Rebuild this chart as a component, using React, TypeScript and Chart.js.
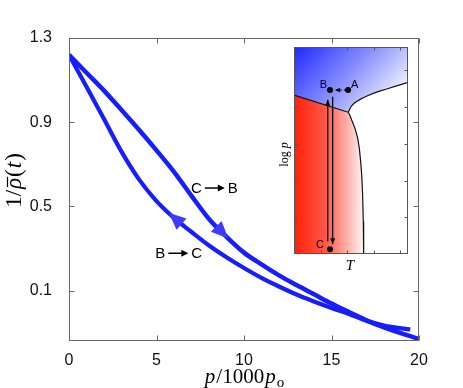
import React, { useEffect, useRef } from "react";
import { Chart, registerables } from "chart.js";

Chart.register(...registerables);

// ---------- main chart data ----------
const pressureCompress = [0, 1, 2, 3, 4, 5, 6, 7, 8, 9, 10, 11, 12, 13, 14, 15, 16, 17, 18, 19, 20];
const invDensityCompress = [1.22, 1.135, 1.05, 0.958, 0.864, 0.766, 0.664, 0.55, 0.44, 0.355, 0.28, 0.224, 0.172, 0.126, 0.082, 0.038, -0.002, -0.042, -0.075, -0.104, -0.13];
const pressureDecompress = [0, 1, 2, 3, 4, 5, 6, 7, 8, 9, 10, 11, 12, 13, 14, 15, 16, 17, 18, 19, 19.5];
const invDensityDecompress = [1.22, 1.068, 0.915, 0.76, 0.628, 0.525, 0.445, 0.378, 0.314, 0.258, 0.207, 0.16, 0.119, 0.081, 0.048, 0.017, -0.012, -0.044, -0.066, -0.08, -0.085];
const xTickValues = [0, 5, 10, 15, 20];
const yTickValues = [0.1, 0.5, 0.9, 1.3];

// direction arrows on the curves
const arrowSeries = [0, 1];
const arrowTipP = [9.1, 5.7];
const arrowBaseP = [8.4, 6.3];

// curve annotations
const labelFrom = ["C", "B"];
const labelTo = ["B", "C"];
const labelP = [8.31, 6.27];
const labelInv = [0.587, 0.277];

// ---------- inset (phase diagram) data ----------
const insetLeftT = [0, 0.476];
const insetLeftLogP = [0.768, 0.685];
const insetUpperT = [0.476, 0.49, 0.506, 0.527, 0.55, 0.58, 0.608, 0.65, 0.696, 0.75, 0.813, 0.9, 1];
const insetUpperLogP = [0.685, 0.702, 0.716, 0.728, 0.737, 0.747, 0.755, 0.766, 0.776, 0.787, 0.797, 0.812, 0.829];
const insetLowerT = [0.476, 0.492, 0.506, 0.535, 0.559, 0.573, 0.585, 0.594, 0.602, 0.608, 0.611];
const insetLowerLogP = [0.685, 0.668, 0.647, 0.607, 0.559, 0.511, 0.446, 0.382, 0.285, 0.156, 0];
const stateNames = ["A", "B", "C"];
const stateT = [0.474, 0.316, 0.316];
const stateLogP = [0.792, 0.792, 0.023];
const upPathT = [0.296, 0.296];
const upPathLogP = [0.06, 0.745];
const downPathT = [0.339, 0.339];
const downPathLogP = [0.76, 0.047];
const dotPathT = [0.455, 0.36];
const dotPathLogP = [0.792, 0.792];
const insetTTicks = [0.233, 0.467, 0.7, 0.933];
const insetLogPTicks = [0.177, 0.355, 0.532, 0.709, 0.887];

const BLUE = "rgb(22,30,255)";
const ARROW_BLUE = "rgb(62,58,255)";
const SANS = "'Liberation Sans', Arial, sans-serif";
const SERIF = "'Liberation Serif', 'Times New Roman', serif";

function interp(xs: number[], ys: number[], x: number): number {
  for (let i = 0; i < xs.length - 1; i++) {
    if (x >= xs[i] && x <= xs[i + 1]) {
      const t = (x - xs[i]) / (xs[i + 1] - xs[i]);
      return ys[i] + t * (ys[i + 1] - ys[i]);
    }
  }
  return ys[ys.length - 1];
}

function triangle(ctx: CanvasRenderingContext2D, tx: number, ty: number, dx: number, dy: number, len: number, hw: number) {
  const n = Math.hypot(dx, dy) || 1;
  const ux = dx / n, uy = dy / n;
  const bx = tx - ux * len, by = ty - uy * len;
  ctx.beginPath();
  ctx.moveTo(tx, ty);
  ctx.lineTo(bx - uy * hw, by + ux * hw);
  ctx.lineTo(bx + uy * hw, by - ux * hw);
  ctx.closePath();
  ctx.fill();
}

const mainPlugin = {
  id: "mainDecor",
  afterDatasetsDraw(chart: any) {
    const { ctx, scales } = chart;
    const xs = scales.x, ys = scales.y;
    ctx.save();
    // direction arrows
    ctx.fillStyle = ARROW_BLUE;
    arrowSeries.forEach((s, i) => {
      const px = s === 0 ? pressureCompress : pressureDecompress;
      const py = s === 0 ? invDensityCompress : invDensityDecompress;
      const tx = xs.getPixelForValue(arrowTipP[i]);
      const ty = ys.getPixelForValue(interp(px, py, arrowTipP[i]));
      const bx = xs.getPixelForValue(arrowBaseP[i]);
      const by = ys.getPixelForValue(interp(px, py, arrowBaseP[i]));
      triangle(ctx, tx, ty, tx - bx, ty - by, 17, 7.5);
    });
    // annotations "C -> B", "B -> C"
    ctx.font = `15px ${SANS}`;
    ctx.fillStyle = "#000";
    ctx.strokeStyle = "#000";
    ctx.textBaseline = "middle";
    ctx.textAlign = "left";
    labelFrom.forEach((f, i) => {
      const cx = xs.getPixelForValue(labelP[i]);
      const cy = ys.getPixelForValue(labelInv[i]);
      const wF = ctx.measureText(f).width;
      const wT = ctx.measureText(labelTo[i]).width;
      const arrowLen = 20, gap = 3;
      const total = wF + gap + arrowLen + gap + wT;
      const x0 = cx - total / 2;
      ctx.fillText(f, x0, cy + 1);
      const ax0 = x0 + wF + gap;
      const ax1 = ax0 + arrowLen;
      ctx.lineWidth = 1.5;
      ctx.beginPath();
      ctx.moveTo(ax0, cy);
      ctx.lineTo(ax1 - 6, cy);
      ctx.stroke();
      triangle(ctx, ax1, cy, 1, 0, 7, 3.5);
      ctx.fillText(labelTo[i], ax1 + gap, cy + 1);
    });
    ctx.restore();
  },
  afterDraw(chart: any) {
    const { ctx, chartArea: a, scales } = chart;
    const xs = scales.x, ys = scales.y;
    ctx.save();
    const L = Math.round(a.left) + 0.5, R = Math.round(a.right) - 0.5;
    const T = Math.round(a.top) + 0.5, B = Math.round(a.bottom) - 0.5;
    ctx.strokeStyle = "#666";
    ctx.lineWidth = 1;
    ctx.strokeRect(L, T, R - L, B - T);
    ctx.beginPath();
    xTickValues.forEach((v) => {
      const x = Math.round(xs.getPixelForValue(v)) + 0.5;
      ctx.moveTo(x, B); ctx.lineTo(x, B - 5);
      ctx.moveTo(x, T); ctx.lineTo(x, T + 5);
    });
    yTickValues.forEach((v) => {
      const y = Math.round(ys.getPixelForValue(v)) + 0.5;
      ctx.moveTo(L, y); ctx.lineTo(L + 5, y);
      ctx.moveTo(R, y); ctx.lineTo(R - 5, y);
    });
    ctx.stroke();

    // x-axis title: p/1000p_o
    ctx.fillStyle = "#000";
    ctx.textBaseline = "alphabetic";
    ctx.textAlign = "left";
    const fs = 21;
    const parts: [string, string, number][] = [
      ["p", `italic ${fs}px ${SERIF}`, 0],
      ["/1000", `${fs}px ${SERIF}`, 0],
      ["p", `italic ${fs}px ${SERIF}`, 0],
      ["o", `${Math.round(fs * 0.7)}px ${SERIF}`, 4],
    ];
    let tw = 0;
    parts.forEach(([t, f]) => { ctx.font = f; tw += ctx.measureText(t).width + 1; });
    let x = (a.left + a.right) / 2 + 1 - tw / 2;
    const base = 383;
    parts.forEach(([t, f, dy]) => { ctx.font = f; ctx.fillText(t, x, base + dy); x += ctx.measureText(t).width + 1; });

    // y-axis title: 1/rho-bar(t)
    ctx.translate(21, 180);
    ctx.rotate(-Math.PI / 2);
    const ys2 = 23;
    const yparts: [string, string][] = [
      ["1/", `${ys2}px ${SERIF}`],
      ["ρ", `italic ${ys2}px ${SERIF}`],
      ["(", `${ys2}px ${SERIF}`],
      ["t", `italic ${ys2}px ${SERIF}`],
      [")", `${ys2}px ${SERIF}`],
    ];
    let yw = 0;
    yparts.forEach(([t, f]) => { ctx.font = f; yw += ctx.measureText(t).width + 1; });
    let yx = -yw / 2;
    yparts.forEach(([t, f]) => {
      ctx.font = f;
      const w = ctx.measureText(t).width;
      ctx.fillText(t, yx, 0);
      if (t === "ρ") {
        ctx.lineWidth = 1.2;
        ctx.strokeStyle = "#000";
        ctx.beginPath();
        ctx.moveTo(yx + 2, -13.5);
        ctx.lineTo(yx + w + 1, -13.5);
        ctx.stroke();
      }
      yx += w + 1;
    });
    ctx.restore();
  },
};

const insetPlugin = {
  id: "insetDecor",
  beforeDatasetsDraw(chart: any) {
    const { ctx, chartArea: a, scales } = chart;
    const X = (t: number) => scales.x.getPixelForValue(t);
    const Y = (v: number) => scales.y.getPixelForValue(v);
    ctx.save();
    const w = a.right - a.left, h = a.bottom - a.top;
    const g = ctx.createLinearGradient(a.left, a.top, a.left + 0.76 * w, a.top + 0.38 * h);
    g.addColorStop(0, "rgb(30,40,255)");
    g.addColorStop(0.5, "rgb(135,142,255)");
    g.addColorStop(1, "rgb(255,255,255)");
    ctx.fillStyle = g;
    ctx.fillRect(a.left, a.top, w, h);

    // red (dense) region
    ctx.beginPath();
    ctx.moveTo(X(0), Y(0));
    insetLeftT.forEach((t, i) => ctx.lineTo(X(t), Y(insetLeftLogP[i])));
    insetLowerT.forEach((t, i) => ctx.lineTo(X(t), Y(insetLowerLogP[i])));
    ctx.closePath();
    const r = ctx.createLinearGradient(a.left, 0, X(insetLowerT[insetLowerT.length - 1]), 0);
    r.addColorStop(0, "rgb(255,32,8)");
    r.addColorStop(0.45, "rgb(255,88,72)");
    r.addColorStop(1, "rgb(255,246,246)");
    ctx.fillStyle = r;
    ctx.fill();

    // white region
    ctx.beginPath();
    insetUpperT.forEach((t, i) => (i === 0 ? ctx.moveTo(X(t), Y(insetUpperLogP[i])) : ctx.lineTo(X(t), Y(insetUpperLogP[i]))));
    ctx.lineTo(X(1), Y(0));
    for (let i = insetLowerT.length - 1; i >= 0; i--) ctx.lineTo(X(insetLowerT[i]), Y(insetLowerLogP[i]));
    ctx.closePath();
    ctx.fillStyle = "#fff";
    ctx.fill();
    ctx.restore();
  },
  afterDatasetsDraw(chart: any) {
    const { ctx, scales } = chart;
    const X = (t: number) => scales.x.getPixelForValue(t);
    const Y = (v: number) => scales.y.getPixelForValue(v);
    ctx.save();
    ctx.fillStyle = "#111";
    triangle(ctx, X(upPathT[1]), Y(upPathLogP[1]), 0, -1, 6, 2.6);
    triangle(ctx, X(downPathT[1]), Y(downPathLogP[1]), 0, 1, 6, 2.6);
    triangle(ctx, X(dotPathT[1]), Y(dotPathLogP[1]), -1, 0, 5, 2.4);
    ctx.fillStyle = "#000";
    ctx.font = `11px ${SANS}`;
    ctx.textBaseline = "alphabetic";
    stateNames.forEach((n, i) => {
      const px = X(stateT[i]);
      const py = Y(stateLogP[i]);
      if (n === "A") { ctx.textAlign = "left"; ctx.fillText(n, px + 3, py - 2); }
      else if (n === "B") { ctx.textAlign = "right"; ctx.fillText(n, px - 3, py - 2); }
      else { ctx.textAlign = "right"; ctx.fillText(n, px - 6, py - 1); }
    });
    ctx.restore();
  },
  afterDraw(chart: any) {
    const { ctx, chartArea: a, scales } = chart;
    const X = (t: number) => scales.x.getPixelForValue(t);
    const Y = (v: number) => scales.y.getPixelForValue(v);
    ctx.save();
    const L = Math.round(a.left) + 0.5, R = Math.round(a.right) - 0.5;
    const T = Math.round(a.top) + 0.5, B = Math.round(a.bottom) - 0.5;
    ctx.strokeStyle = "#555";
    ctx.lineWidth = 1;
    ctx.strokeRect(L, T, R - L, B - T);
    ctx.beginPath();
    insetTTicks.forEach((t) => {
      const x = Math.round(X(t)) + 0.5;
      ctx.moveTo(x, B); ctx.lineTo(x, B - 3);
      ctx.moveTo(x, T); ctx.lineTo(x, T + 3);
    });
    insetLogPTicks.forEach((v) => {
      const y = Math.round(Y(v)) + 0.5;
      ctx.moveTo(L, y); ctx.lineTo(L + 3, y);
      ctx.moveTo(R, y); ctx.lineTo(R - 3, y);
    });
    ctx.stroke();
    // axis labels
    ctx.fillStyle = "#000";
    ctx.textBaseline = "alphabetic";
    ctx.textAlign = "center";
    ctx.font = `italic 15px ${SERIF}`;
    ctx.fillText("T", (a.left + a.right) / 2 - 1, a.bottom + 16);
    ctx.translate(a.left - 6, (a.top + a.bottom) / 2 + 4);
    ctx.rotate(-Math.PI / 2);
    ctx.textAlign = "left";
    ctx.font = `12px ${SERIF}`;
    const w1 = ctx.measureText("log ").width;
    ctx.font = `italic 12px ${SERIF}`;
    const w2 = ctx.measureText("p").width;
    const sx = -(w1 + w2) / 2;
    ctx.font = `12px ${SERIF}`;
    ctx.fillText("log ", sx, 0);
    ctx.font = `italic 12px ${SERIF}`;
    ctx.fillText("p", sx + w1, 0);
    ctx.restore();
  },
};

function toPts(xs: number[], ys: number[]) {
  return xs.map((x, i) => ({ x, y: ys[i] }));
}

export default function App() {
  const mainRef = useRef<HTMLCanvasElement | null>(null);
  const insetRef = useRef<HTMLCanvasElement | null>(null);

  useEffect(() => {
    document.body.style.margin = "0";
    const main = new Chart(mainRef.current as HTMLCanvasElement, {
      type: "line",
      data: {
        datasets: [
          {
            data: toPts(pressureCompress, invDensityCompress),
            borderColor: BLUE,
            borderWidth: 4.5,
            pointRadius: 0,
            cubicInterpolationMode: "monotone",
            fill: false,
          },
          {
            data: toPts(pressureDecompress, invDensityDecompress),
            borderColor: BLUE,
            borderWidth: 4.2,
            pointRadius: 0,
            cubicInterpolationMode: "monotone",
            fill: false,
          },
        ],
      },
      options: {
        animation: false,
        responsive: false,
        maintainAspectRatio: false,
        layout: { padding: { top: 38, right: 44, left: 0, bottom: 0 } },
        plugins: { legend: { display: false }, tooltip: { enabled: false } },
        scales: {
          x: {
            type: "linear",
            min: 0,
            max: 20,
            grid: { display: false },
            border: { display: false },
            ticks: { font: { family: SANS, size: 16 }, color: "#111", padding: 2, maxRotation: 0 },
            afterBuildTicks: (s: any) => { s.ticks = xTickValues.map((v) => ({ value: v })); },
            afterFit: (s: any) => { s.height = 47; },
          },
          y: {
            type: "linear",
            min: -0.14,
            max: 1.3,
            grid: { display: false },
            border: { display: false },
            ticks: {
              font: { family: SANS, size: 16 },
              color: "#111",
              padding: 9,
              callback: (v: any) => Number(v).toFixed(1),
            },
            afterBuildTicks: (s: any) => { s.ticks = yTickValues.map((v) => ({ value: v })); },
            afterFit: (s: any) => { s.width = 69; },
          },
        },
      } as any,
      plugins: [mainPlugin],
    });

    const lineDs = (xs: number[], ys: number[], extra: any = {}) => ({
      data: toPts(xs, ys),
      showLine: true,
      borderColor: "#111",
      borderWidth: 1.2,
      pointRadius: 0,
      tension: 0,
      fill: false,
      ...extra,
    });

    const inset = new Chart(insetRef.current as HTMLCanvasElement, {
      type: "scatter",
      data: {
        datasets: [
          lineDs(insetLeftT, insetLeftLogP),
          lineDs(insetUpperT, insetUpperLogP),
          lineDs(insetLowerT, insetLowerLogP),
          lineDs(upPathT, upPathLogP, { borderWidth: 1.4 }),
          lineDs(downPathT, downPathLogP, { borderWidth: 1.4 }),
          lineDs(dotPathT, dotPathLogP, { borderWidth: 1.2, borderDash: [2, 2] }),
          {
            data: toPts(stateT, stateLogP),
            showLine: false,
            pointRadius: 3,
            pointBackgroundColor: "#000",
            pointBorderColor: "#000",
            pointBorderWidth: 0,
          },
        ],
      },
      options: {
        animation: false,
        responsive: false,
        maintainAspectRatio: false,
        layout: { padding: { top: 7, right: 12, left: 24, bottom: 21 } },
        plugins: { legend: { display: false }, tooltip: { enabled: false } },
        scales: {
          x: { type: "linear", min: 0, max: 1, display: false },
          y: { type: "linear", min: 0, max: 1, display: false },
        },
      } as any,
      plugins: [insetPlugin],
    });

    return () => {
      main.destroy();
      inset.destroy();
    };
  }, []);

  return (
    <div style={{ position: "relative", width: 463, height: 388, background: "#fff" }}>
      <canvas ref={mainRef} width={463} height={388} style={{ position: "absolute", left: 0, top: 0, width: 463, height: 388 }} />
      <canvas ref={insetRef} width={150} height={235} style={{ position: "absolute", left: 270, top: 40, width: 150, height: 235 }} />
    </div>
  );
}
